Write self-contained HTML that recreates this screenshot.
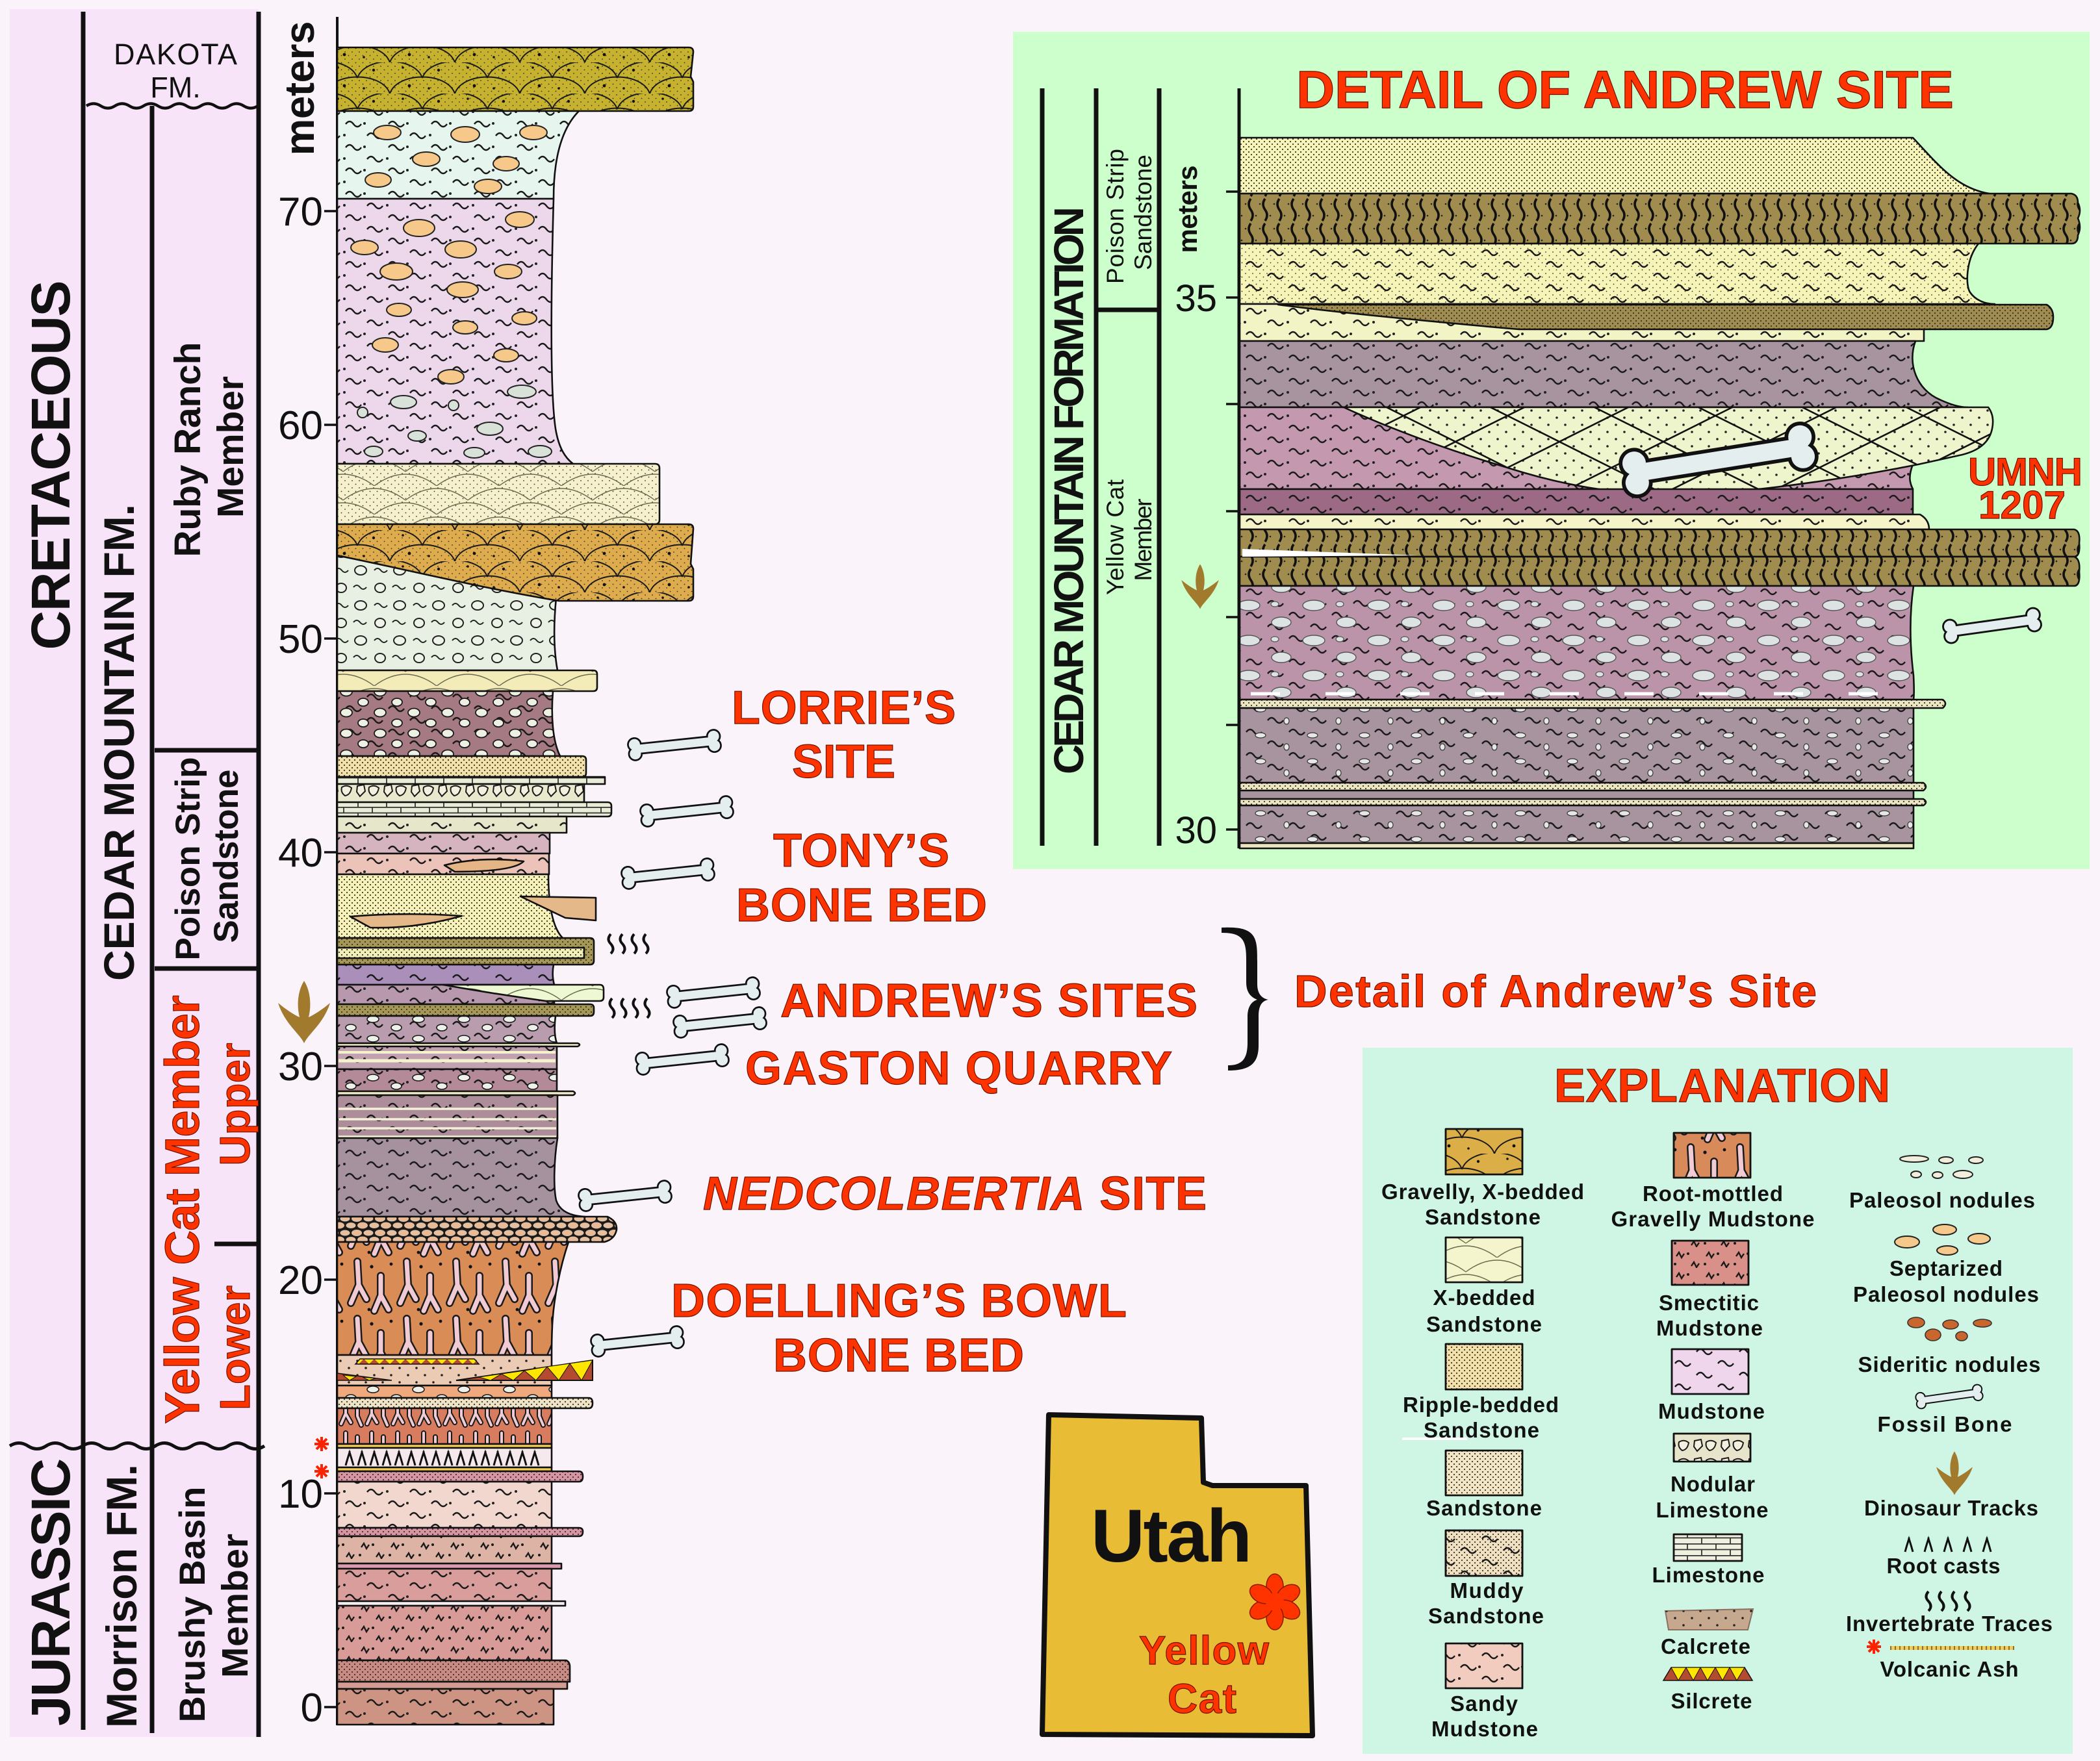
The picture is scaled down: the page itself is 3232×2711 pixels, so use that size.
<!DOCTYPE html>
<html><head><meta charset="utf-8">
<style>
html,body{margin:0;padding:0;background:#faf4fa;overflow:hidden}
svg{display:block}
text{font-family:"Liberation Sans",Arial,Helvetica,sans-serif}
.b{font-weight:bold}
.red{fill:#ff3300;stroke:#701000;stroke-width:1.2}
.lg{font-weight:bold;font-size:33px;fill:#111;text-anchor:middle}
.o{stroke:#111;stroke-width:2.6;stroke-linejoin:round}
</style></head><body>
<svg width="3232" height="2711" viewBox="0 0 3232 2711" xmlns="http://www.w3.org/2000/svg">
<defs>
<pattern id="pDots" width="8" height="8" patternUnits="userSpaceOnUse"><circle cx="2" cy="2" r="1.1" fill="#333"/><circle cx="6" cy="6" r="1.1" fill="#333"/></pattern>
<pattern id="pDotF" width="11" height="11" patternUnits="userSpaceOnUse"><circle cx="3" cy="3" r="0.9" fill="#333"/><circle cx="8.5" cy="8.5" r="0.9" fill="#333"/></pattern>
<pattern id="pDotsS" width="26" height="22" patternUnits="userSpaceOnUse"><circle cx="4" cy="5" r="1.8" fill="#222"/><circle cx="17" cy="16" r="1.8" fill="#222"/></pattern>
<pattern id="pWave" width="66" height="36" patternUnits="userSpaceOnUse"><path d="M4,11 q6,-8 12,0 t12,0 M37,29 q6,-8 12,0 t12,0" fill="none" stroke="#1a1a1a" stroke-width="2.4"/></pattern>
<pattern id="pWaveDot" width="66" height="36" patternUnits="userSpaceOnUse"><path d="M4,11 q6,-8 12,0 t12,0 M37,29 q6,-8 12,0 t12,0" fill="none" stroke="#1a1a1a" stroke-width="2.4"/><circle cx="33" cy="10" r="2" fill="#222"/><circle cx="2" cy="28" r="2" fill="#222"/></pattern>
<pattern id="pXbed" width="96" height="44" patternUnits="userSpaceOnUse"><path d="M0,44 Q48,8 96,44 M-48,22 Q0,-14 48,22 M48,22 Q96,-14 144,22" fill="none" stroke="#6a6a50" stroke-width="1.4"/></pattern>
<pattern id="pScale" width="100" height="48" patternUnits="userSpaceOnUse"><path d="M0,48 C12,14 88,14 100,48 M-50,24 C-38,-10 38,-10 50,24 M50,24 C62,-10 138,-10 150,24" fill="none" stroke="#1a1a1a" stroke-width="2"/><circle cx="30" cy="36" r="2.4" fill="#111"/><circle cx="75" cy="12" r="2.2" fill="#111"/><circle cx="60" cy="40" r="1.8" fill="#111"/><circle cx="20" cy="8" r="1.8" fill="#111"/></pattern>
<pattern id="pPeb" width="52" height="32" patternUnits="userSpaceOnUse"><ellipse cx="13" cy="9" rx="9" ry="6.5" fill="#eef0e4" stroke="#1a1a1a" stroke-width="1.8"/><ellipse cx="39" cy="25" rx="8" ry="6" fill="#eef0e4" stroke="#1a1a1a" stroke-width="1.8"/></pattern>
<pattern id="pPebS" width="70" height="30" patternUnits="userSpaceOnUse"><ellipse cx="14" cy="9" rx="9" ry="5" fill="#eef0ea" stroke="#1a1a1a" stroke-width="1.6"/><ellipse cx="50" cy="22" rx="8" ry="5" fill="#eef0ea" stroke="#1a1a1a" stroke-width="1.6"/></pattern>
<pattern id="pOpen" width="60" height="54" patternUnits="userSpaceOnUse"><ellipse cx="15" cy="14" rx="9" ry="7" fill="#eef3e8" stroke="#222" stroke-width="2"/><ellipse cx="45" cy="41" rx="8" ry="7" fill="#eef3e8" stroke="#222" stroke-width="2"/><path d="M36,14 q5,-6 10,0 t10,0 M4,40 q5,-6 10,0 t10,0" fill="none" stroke="#222" stroke-width="2"/></pattern>
<pattern id="pGrav" width="36" height="22" patternUnits="userSpaceOnUse"><rect width="36" height="22" fill="#1a1a1a"/><ellipse cx="9" cy="6" rx="8" ry="5" fill="#e8bb98"/><ellipse cx="27" cy="6" rx="7.5" ry="4.5" fill="#e4c0a0"/><ellipse cx="18" cy="16.5" rx="8" ry="5" fill="#e8bb98"/><ellipse cx="0" cy="16.5" rx="7.5" ry="4.5" fill="#e4c0a0"/><ellipse cx="36" cy="16.5" rx="7.5" ry="4.5" fill="#e4c0a0"/></pattern>
<pattern id="pBrick" width="44" height="18" patternUnits="userSpaceOnUse"><path d="M0,0.8 H44 M0,9.5 H44 M1,0 V9 M23,9 V18" stroke="#333" stroke-width="1.8" fill="none"/></pattern>
<pattern id="pNod" width="42" height="28" patternUnits="userSpaceOnUse"><path d="M4,6 L14,4 L16,14 L8,22 L3,15 Z M22,8 Q30,3 37,9 Q35,20 27,21 Q20,16 22,8 Z" fill="#f4f0e0" stroke="#1a1a1a" stroke-width="2"/></pattern>
<pattern id="pTrace" width="22" height="38" patternUnits="userSpaceOnUse"><path d="M11,2 q-6,8 0,17 q6,8 0,17" fill="none" stroke="#111" stroke-width="3.6"/><circle cx="3" cy="10" r="1.3" fill="#222"/><circle cx="19" cy="28" r="1.3" fill="#222"/></pattern>
<pattern id="pRoot" width="76" height="88" patternUnits="userSpaceOnUse"><g fill="none" stroke-linecap="round" stroke-linejoin="round"><path d="M18,6 L20,42 L8,70 M20,42 L32,64 M54,28 L54,58 L44,82 M54,58 L66,80" stroke="#1a1a1a" stroke-width="12"/><path d="M18,6 L20,42 L8,70 M20,42 L32,64 M54,28 L54,58 L44,82 M54,58 L66,80" stroke="#f0cbd3" stroke-width="7"/></g><circle cx="40" cy="14" r="2.6" fill="#111"/><circle cx="70" cy="10" r="2.4" fill="#111"/><circle cx="36" cy="80" r="2.4" fill="#111"/></pattern>
<pattern id="pRootS" width="40" height="50" patternUnits="userSpaceOnUse"><g fill="none" stroke-linecap="round" stroke-linejoin="round"><path d="M12,6 L12,26 L5,42 M12,26 L20,40 M30,12 L30,30 L36,44" stroke="#1a1a1a" stroke-width="8"/><path d="M12,6 L12,26 L5,42 M12,26 L20,40 M30,12 L30,30 L36,44" stroke="#f0cbd3" stroke-width="4"/></g></pattern>
<pattern id="pSmect" width="46" height="32" patternUnits="userSpaceOnUse"><path d="M4,14 l4,-6 l4,8 l4,-6 M27,29 l4,-6 l4,8 l4,-6" fill="none" stroke="#1a1a1a" stroke-width="2.4"/><circle cx="22" cy="10" r="2" fill="#1a1a1a"/><circle cx="2" cy="26" r="2" fill="#1a1a1a"/></pattern>
<pattern id="pNodG" width="100" height="54" patternUnits="userSpaceOnUse"><ellipse cx="22" cy="14" rx="17" ry="8" fill="#dde2e2" stroke="#555" stroke-width="1.4"/><ellipse cx="72" cy="40" rx="15" ry="8" fill="#dde2e2" stroke="#555" stroke-width="1.4"/><ellipse cx="62" cy="12" rx="6" ry="4" fill="#dde2e2" stroke="#555" stroke-width="1.2"/></pattern>
<pattern id="pNodS" width="80" height="40" patternUnits="userSpaceOnUse"><ellipse cx="20" cy="12" rx="8" ry="4" fill="#e6e6e6" stroke="#333" stroke-width="1.2"/><ellipse cx="60" cy="30" rx="4" ry="5" fill="#e6e6e6" stroke="#333" stroke-width="1.2"/></pattern>
<pattern id="pDiam" width="160" height="80" patternUnits="userSpaceOnUse"><path d="M0,40 L80,0 L160,40 L80,80 Z" fill="none" stroke="#111" stroke-width="2.6"/></pattern>
<pattern id="pSil" width="16" height="8" patternUnits="userSpaceOnUse" patternTransform="translate(0,2092)"><rect width="16" height="8" fill="#b44a30"/><path d="M0,0 H16 L8,8 Z" fill="#ffe600"/></pattern>
<path id="trk" d="M0,48 C-6,34 -30,18 -40,-14 C-28,-4 -16,4 -7,8 C-12,-12 -9,-34 0,-48 C9,-34 12,-12 7,8 C16,4 28,-4 40,-14 C30,18 6,34 0,48 Z" fill="#a27a2e"/>
<g id="bone"><g stroke="#111" stroke-width="6" fill="#e4eeee"><rect x="-62" y="-7" width="124" height="14"/><circle cx="-68" cy="-8" r="9.5"/><circle cx="-68" cy="8" r="9.5"/><circle cx="68" cy="-8" r="9.5"/><circle cx="68" cy="8" r="9.5"/></g><g fill="#e4eeee"><rect x="-64" y="-7" width="128" height="14"/><circle cx="-68" cy="-8" r="9.5"/><circle cx="-68" cy="8" r="9.5"/><circle cx="68" cy="-8" r="9.5"/><circle cx="68" cy="8" r="9.5"/></g></g>
<path id="sq" d="M0,0 q-7,8 0,15 q7,8 0,15" fill="none" stroke="#111" stroke-width="4"/>
<path id="rc" d="M0,20 Q3,9 6,0 Q9,9 12,20 M6,0 V-2" fill="none" stroke="#111" stroke-width="3"/>
<path id="ast" d="M-11,0 H11 M0,-11 V11 M-8,-8 L8,8 M-8,8 L8,-8" stroke="#ff2200" stroke-width="4"/>
</defs>

<rect width="3232" height="2711" fill="#faf4fa"/>
<!-- left label panel -->
<rect x="15" y="14" width="383" height="2660" fill="#f8e4f8"/>
<g stroke="#111" stroke-width="7" fill="none">
<line x1="128" y1="18" x2="128" y2="2663"/>
<line x1="234" y1="163" x2="234" y2="2668"/>
<line x1="398" y1="18" x2="398" y2="2674"/>
<line x1="238" y1="1155" x2="398" y2="1155"/>
<line x1="238" y1="1491" x2="398" y2="1491"/>
<line x1="330" y1="1915" x2="398" y2="1915"/>
</g>
<path d="M133,163 q11,-7 22,0 t22,0 t22,0 t22,0 t22,0 t22,0 t22,0 t22,0 t22,0 t22,0 t22,0 t22,0" fill="none" stroke="#111" stroke-width="4.5"/>
<path d="M15,2226 q14,-9 28,0 t28,0 t28,0 t28,0 t28,0 t28,0 t28,0 t28,0 t28,0 t28,0 t28,0 t28,0 t28,0 t28,0" fill="none" stroke="#111" stroke-width="5"/>
<text x="270" y="99" font-size="45" text-anchor="middle" textLength="190" fill="#111">DAKOTA</text>
<text x="270" y="150" font-size="45" text-anchor="middle" fill="#111">FM.</text>

<g class="b" fill="#111" text-anchor="middle">
<text transform="translate(77,716) rotate(-90)" x="0" y="30" font-size="84" textLength="569">CRETACEOUS</text>
<text transform="translate(77,2451) rotate(-90)" x="0" y="30" font-size="84" textLength="412">JURASSIC</text>
<text transform="translate(182,1143) rotate(-90)" x="0" y="24" font-size="66" textLength="734">CEDAR MOUNTAIN FM.</text>
<text transform="translate(186,2457) rotate(-90)" x="0" y="24" font-size="66" textLength="406">Morrison FM.</text>
<text transform="translate(288,692) rotate(-90)" x="0" y="20" font-size="57" textLength="331">Ruby Ranch</text>
<text transform="translate(354,688) rotate(-90)" x="0" y="20" font-size="57" textLength="218">Member</text>
<text transform="translate(288,1322) rotate(-90)" x="0" y="19" font-size="53" textLength="313">Poison Strip</text>
<text transform="translate(347,1318) rotate(-90)" x="0" y="19" font-size="53" textLength="267">Sandstone</text>
<text transform="translate(295,2470) rotate(-90)" x="0" y="20" font-size="56" textLength="363">Brushy Basin</text>
<text transform="translate(361,2472) rotate(-90)" x="0" y="20" font-size="57" textLength="222">Member</text>
<text transform="translate(466,136) rotate(-90)" x="0" y="17" font-size="64" textLength="207">meters</text>
</g>
<g class="b red" text-anchor="middle">
<text transform="translate(280,1862) rotate(-90)" x="0" y="26" font-size="74" textLength="660">Yellow Cat Member</text>
<text transform="translate(361,1700) rotate(-90)" x="0" y="23" font-size="65" textLength="189">Upper</text>
<text transform="translate(361,2075) rotate(-90)" x="0" y="23" font-size="65" textLength="192">Lower</text>
</g>

<!-- axis and ticks -->
<line x1="519" y1="26" x2="519" y2="2656" stroke="#111" stroke-width="4"/>
<g stroke="#111" stroke-width="3.5"><line x1="499" y1="325" x2="519" y2="325"/><line x1="499" y1="654" x2="519" y2="654"/><line x1="499" y1="983" x2="519" y2="983"/><line x1="499" y1="1312" x2="519" y2="1312"/><line x1="499" y1="1641" x2="519" y2="1641"/><line x1="499" y1="1970" x2="519" y2="1970"/><line x1="499" y1="2299" x2="519" y2="2299"/><line x1="499" y1="2628" x2="519" y2="2628"/></g>
<g font-size="62" text-anchor="end" fill="#111">
<text x="497" y="347">70</text><text x="497" y="676">60</text><text x="497" y="1005">50</text><text x="497" y="1334">40</text><text x="497" y="1663">30</text><text x="497" y="1992">20</text><text x="497" y="2321">10</text><text x="497" y="2650">0</text>
</g>

<!-- MAIN COLUMN -->
<g>
<path d="M519,73H1060Q1067,73 1067,80L1063,118L1067,126V164Q1067,171 1060,171H519Z" fill="#c6b22e"/>
<path d="M519,73H1060Q1067,73 1067,80L1063,118L1067,126V164Q1067,171 1060,171H519Z" fill="url(#pDotF)"/>
<path d="M519,73H1060Q1067,73 1067,80L1063,118L1067,126V164Q1067,171 1060,171H519Z" fill="url(#pScale)" class="o"/>
<path d="M519,171H891C862,200 852,250 852,306H519Z" fill="#e6f5ee"/>
<path d="M519,171H891C862,200 852,250 852,306H519Z" fill="url(#pWaveDot)" class="o"/>
<path d="M519,306H852C848,450 846,600 855,660C860,690 870,705 882,714H519Z" fill="#ecd8ea"/>
<path d="M519,306H852C848,450 846,600 855,660C860,690 870,705 882,714H519Z" fill="url(#pWaveDot)" class="o"/>
<g fill="#f6c98a" stroke="#222" stroke-width="2">
<ellipse cx="596" cy="204" rx="21" ry="11"/><ellipse cx="716" cy="207" rx="22" ry="12"/><ellipse cx="821" cy="204" rx="21" ry="11"/><ellipse cx="656" cy="245" rx="21" ry="11"/><ellipse cx="779" cy="252" rx="20" ry="11"/><ellipse cx="582" cy="277" rx="20" ry="11"/><ellipse cx="751" cy="287" rx="21" ry="11"/>
<ellipse cx="800" cy="338" rx="22" ry="12"/><ellipse cx="645" cy="351" rx="24" ry="13"/><ellipse cx="561" cy="381" rx="21" ry="11"/><ellipse cx="709" cy="384" rx="24" ry="13"/><ellipse cx="610" cy="418" rx="25" ry="13"/><ellipse cx="782" cy="418" rx="21" ry="11"/><ellipse cx="712" cy="446" rx="24" ry="12"/><ellipse cx="614" cy="477" rx="19" ry="10"/><ellipse cx="807" cy="490" rx="19" ry="10"/><ellipse cx="716" cy="504" rx="19" ry="10"/><ellipse cx="593" cy="531" rx="20" ry="11"/><ellipse cx="779" cy="547" rx="19" ry="10"/><ellipse cx="694" cy="580" rx="20" ry="11"/>
</g>
<g fill="#d8e2d8" stroke="#222" stroke-width="2">
<ellipse cx="803" cy="603" rx="22" ry="10"/><ellipse cx="621" cy="619" rx="20" ry="10"/><circle cx="558" cy="635" r="8"/><circle cx="698" cy="624" r="8"/><ellipse cx="754" cy="660" rx="20" ry="10"/><ellipse cx="642" cy="671" rx="14" ry="8"/><ellipse cx="575" cy="695" rx="14" ry="8"/><ellipse cx="730" cy="697" rx="16" ry="8"/><ellipse cx="831" cy="695" rx="18" ry="9"/>
</g>
<path d="M519,714H1008Q1015,714 1015,721V800Q1015,807 1008,807H519Z" fill="#f6f0cd"/>
<path d="M519,714H1008Q1015,714 1015,721V800Q1015,807 1008,807H519Z" fill="url(#pDotF)"/>
<path d="M519,714H1008Q1015,714 1015,721V800Q1015,807 1008,807H519Z" fill="url(#pXbed)" class="o"/>
<path d="M519,855C640,880 760,905 856,920C852,960 852,1000 858,1032H519Z" fill="#e7f0e2"/>
<path d="M519,855C640,880 760,905 856,920C852,960 852,1000 858,1032H519Z" fill="url(#pOpen)" class="o"/>
<path d="M519,807H1060Q1067,807 1067,814L1063,868L1067,876V918Q1067,925 1060,925H860C740,905 640,880 519,855Z" fill="#deac4d"/>
<path d="M519,807H1060Q1067,807 1067,814L1063,868L1067,876V918Q1067,925 1060,925H860C740,905 640,880 519,855Z" fill="url(#pDotF)"/>
<path d="M519,807H1060Q1067,807 1067,814L1063,868L1067,876V918Q1067,925 1060,925H860C740,905 640,880 519,855Z" fill="url(#pScale)" class="o"/>
<path d="M519,1032H913Q919,1032 919,1038V1058Q919,1064 913,1064H519Z" fill="#f4ecb8"/>
<path d="M519,1032H913Q919,1032 919,1038V1058Q919,1064 913,1064H519Z" fill="url(#pXbed)" class="o"/>
<path d="M519,1064H851C848,1100 850,1140 862,1164H519Z" fill="#a57a82"/>
<path d="M519,1064H851C848,1100 850,1140 862,1164H519Z" fill="url(#pWave)"/>
<path d="M519,1064H851C848,1100 850,1140 862,1164H519Z" fill="url(#pPeb)" class="o"/>
<path d="M519,1164H896Q902,1164 902,1170V1190Q902,1196 896,1196H519Z" fill="#f2e0a8"/>
<path d="M519,1164H896Q902,1164 902,1170V1190Q902,1196 896,1196H519Z" fill="url(#pDots)" class="o"/>
<path d="M519,1196H931V1207H519Z" fill="#e9ecd6"/><path d="M519,1196H931V1207H519Z" fill="url(#pBrick)" class="o"/>
<path d="M519,1207H899V1235H519Z" fill="#e8e8cc"/><path d="M519,1207H899V1235H519Z" fill="url(#pNod)" class="o"/>
<path d="M519,1235H935Q941,1235 941,1241V1251Q941,1257 935,1257H519Z" fill="#e9ecd6"/><path d="M519,1235H935Q941,1235 941,1241V1251Q941,1257 935,1257H519Z" fill="url(#pBrick)" class="o"/>
<path d="M519,1257H872V1282H519Z" fill="#e6e6ca"/><path d="M519,1257H872V1282H519Z" fill="url(#pWaveDot)" class="o"/>
<path d="M519,1282H846V1314H519Z" fill="#d5b3bf"/><path d="M519,1282H846V1314H519Z" fill="url(#pWaveDot)" class="o"/>
<path d="M519,1314H845V1346H519Z" fill="#ebc3b8"/><path d="M519,1314H845V1346H519Z" fill="url(#pWaveDot)" class="o"/>
<path d="M684,1332Q740,1318 806,1326Q790,1342 700,1342Z" fill="#e6b586" class="o"/>
<path d="M519,1346H844C844,1400 852,1430 866,1444H519Z" fill="#f6f2b8"/><path d="M519,1346H844C844,1400 852,1430 866,1444H519Z" fill="url(#pDots)" class="o"/>
<path d="M801,1380L917,1382V1417L870,1413Z" fill="#e4b888" class="o"/>
<path d="M539,1411Q620,1404 711,1410Q640,1430 570,1428Z" fill="#e4b888" class="o"/>
<path d="M519,1444H908Q914,1444 914,1450V1479Q914,1485 908,1485H519Z" fill="#a69754"/><path d="M519,1444H908Q914,1444 914,1450V1479Q914,1485 908,1485H519Z" fill="url(#pDots)" class="o"/>
<path d="M519,1459H899V1475H519Z" fill="#f2eeb8"/><path d="M519,1459H899V1475H519Z" fill="url(#pDots)" class="o"/>
<path d="M519,1485H852C850,1495 850,1505 853,1516H519Z" fill="#ab8fbb"/><path d="M519,1485H852C850,1495 850,1505 853,1516H519Z" fill="url(#pWave)" class="o"/>
<path d="M519,1516H853V1546H519Z" fill="#b898ac"/><path d="M519,1516H853V1546H519Z" fill="url(#pWaveDot)" class="o"/>
<path d="M682,1516H923Q929,1516 929,1523V1535Q929,1541 923,1541H840Q760,1530 682,1516Z" fill="#eef8d2"/><path d="M682,1516H923Q929,1516 929,1523V1535Q929,1541 923,1541H840Q760,1530 682,1516Z" fill="url(#pXbed)" class="o"/>
<path d="M519,1546H908Q914,1546 914,1552V1558Q914,1564 908,1564H519Z" fill="#a69754"/><path d="M519,1546H908Q914,1546 914,1552V1558Q914,1564 908,1564H519Z" fill="url(#pDots)" class="o"/>
<path d="M519,1564H855C853,1580 853,1595 857,1606H519Z" fill="#b99dae"/><path d="M519,1564H855C853,1580 853,1595 857,1606H519Z" fill="url(#pWave)"/><path d="M519,1564H855C853,1580 853,1595 857,1606H519Z" fill="url(#pPebS)" class="o"/>
<path d="M519,1606H889Q895,1608 889,1611H519Z" fill="#f2f0c8" class="o"/>
<path d="M519,1611H857V1646H519Z" fill="#c2a2b0"/><path d="M519,1611H857V1646H519Z" fill="url(#pWaveDot)" class="o"/>
<line x1="521" y1="1620" x2="855" y2="1620" stroke="#f4f2cc" stroke-width="4"/><line x1="521" y1="1633" x2="855" y2="1633" stroke="#f4f2cc" stroke-width="5"/>
<path d="M519,1646H857V1680H519Z" fill="#b48a98"/><path d="M519,1646H857V1680H519Z" fill="url(#pWaveDot)"/><path d="M519,1646H857V1680H519Z" fill="url(#pPebS)" class="o"/>
<path d="M519,1680H882Q888,1683 882,1686H519Z" fill="#f2efc8" class="o"/>
<path d="M519,1686H858V1752H519Z" fill="#ae8d9b"/><path d="M519,1686H858V1752H519Z" fill="url(#pWaveDot)" class="o"/>
<g stroke="#f2f2d6" stroke-width="3.5"><line x1="521" y1="1707" x2="856" y2="1707"/><line x1="521" y1="1723" x2="856" y2="1723"/><line x1="521" y1="1737" x2="856" y2="1737"/><line x1="521" y1="1750" x2="856" y2="1750"/></g>
<path d="M519,1752H858C852,1790 852,1830 856,1848C862,1866 880,1872 900,1873H519Z" fill="#a6919e"/><path d="M519,1752H858C852,1790 852,1830 856,1848C862,1866 880,1872 900,1873H519Z" fill="url(#pWaveDot)" class="o"/>
<path d="M519,1873H935Q950,1880 949,1893Q946,1908 930,1912H519Z" fill="url(#pGrav)" class="o"/>
<path d="M519,1912H875C862,1950 852,2000 850,2040C849,2060 849,2075 849,2086H519Z" fill="#d98c55"/><path d="M519,1912H875C862,1950 852,2000 850,2040C849,2060 849,2075 849,2086H519Z" fill="url(#pRoot)" class="o"/>
<path d="M519,2086H849V2133H519Z" fill="#eccbb4"/><path d="M519,2086H849V2133H519Z" fill="url(#pDotsS)" class="o"/>
<path d="M547,2100L737,2100L730,2092L554,2092Z" fill="url(#pSil)" stroke="#111" stroke-width="1.5"/>
<path d="M519,2114L603,2125L519,2125Z" fill="#b44a30" stroke="#111" stroke-width="1.5"/>
<path d="M702,2125L912,2094L912,2125Z" fill="#b44a30" stroke="#111" stroke-width="2"/>
<g fill="#ffe600" stroke="#111" stroke-width="1"><path d="M737,2120L772,2115L755,2125Z"/><path d="M772,2115L807,2110L790,2125Z"/><path d="M807,2110L842,2104L825,2125Z"/><path d="M842,2104L877,2099L860,2125Z"/><path d="M877,2099L912,2094L895,2125Z"/><path d="M528,2117L548,2119L538,2125Z"/><path d="M558,2120L578,2122L568,2125Z"/></g>
<path d="M519,2133H849V2152H519Z" fill="#f0a97c"/><path d="M519,2133H849V2152H519Z" fill="url(#pPebS)" class="o"/>
<path d="M519,2152H906Q912,2152 912,2160Q912,2168 906,2168H519Z" fill="#efe3c6"/><path d="M519,2152H906Q912,2152 912,2160Q912,2168 906,2168H519Z" fill="url(#pDots)" class="o"/>
<path d="M519,2168H849V2223H519Z" fill="#d77c5e"/><path d="M519,2168H849V2223H519Z" fill="url(#pRootS)" class="o"/>
<path d="M519,2223H849V2229H519Z" fill="#f0cc58" class="o"/>
<path d="M519,2229H849V2259H519Z" fill="#f6e9ee" class="o"/>
<path d="M519,2259H849V2265H519Z" fill="#f0cc58" class="o"/>
<path d="M519,2265H891Q897,2265 897,2273Q897,2281 891,2281H519Z" fill="#d994a2"/><path d="M519,2265H891Q897,2265 897,2273Q897,2281 891,2281H519Z" fill="url(#pDots)" class="o"/>
<path d="M519,2281H849V2352H519Z" fill="#f1d7ce"/><path d="M519,2281H849V2352H519Z" fill="url(#pWaveDot)" class="o"/>
<path d="M519,2352H891Q897,2352 897,2358Q897,2365 891,2365H519Z" fill="#d994a2"/><path d="M519,2352H891Q897,2352 897,2358Q897,2365 891,2365H519Z" fill="url(#pDots)" class="o"/>
<path d="M519,2365H849V2407H519Z" fill="#dcb3a4"/><path d="M519,2365H849V2407H519Z" fill="url(#pSmect)" class="o"/>
<path d="M519,2407H864V2415H519Z" fill="#d99bb0" class="o"/>
<path d="M519,2415H849V2465H519Z" fill="#d99d9b"/><path d="M519,2415H849V2465H519Z" fill="url(#pWaveDot)" class="o"/>
<path d="M519,2465H870V2472H519Z" fill="#f5eef0" class="o"/>
<path d="M519,2472H849V2556H519Z" fill="#d89b97"/><path d="M519,2472H849V2556H519Z" fill="url(#pSmect)" class="o"/>
<path d="M519,2556H871Q877,2558 877,2566V2589H519Z" fill="#c98a82"/><path d="M519,2556H871Q877,2558 877,2566V2589H519Z" fill="url(#pDots)" class="o"/>
<path d="M519,2589H873V2600H519Z" fill="#d29c92" class="o"/>
<path d="M519,2600H852V2655H519Z" fill="#cd9483"/><path d="M519,2600H852V2655H519Z" fill="url(#pWaveDot)" class="o"/>
</g>
<!-- root casts in column -->
<g><use href="#rc" x="532" y="2236"/><use href="#rc" x="551" y="2236"/><use href="#rc" x="570" y="2236"/><use href="#rc" x="589" y="2236"/><use href="#rc" x="608" y="2236"/><use href="#rc" x="627" y="2236"/><use href="#rc" x="646" y="2236"/><use href="#rc" x="665" y="2236"/><use href="#rc" x="684" y="2236"/><use href="#rc" x="703" y="2236"/><use href="#rc" x="722" y="2236"/><use href="#rc" x="741" y="2236"/><use href="#rc" x="760" y="2236"/><use href="#rc" x="779" y="2236"/><use href="#rc" x="798" y="2236"/><use href="#rc" x="817" y="2236"/></g>
<use href="#ast" x="495" y="2223"/><use href="#ast" x="495" y="2265"/>
<use href="#trk" transform="translate(468,1558)"/>
<!-- invertebrate traces -->
<g><use href="#sq" x="940" y="1438"/><use href="#sq" x="958" y="1438"/><use href="#sq" x="976" y="1438"/><use href="#sq" x="994" y="1438"/>
<use href="#sq" x="942" y="1537"/><use href="#sq" x="960" y="1537"/><use href="#sq" x="978" y="1537"/><use href="#sq" x="996" y="1537"/></g>
<!-- bones -->
<use href="#bone" transform="translate(1038,1147) rotate(-6) scale(0.9)"/>
<use href="#bone" transform="translate(1057,1249) rotate(-6) scale(0.9)"/>
<use href="#bone" transform="translate(1028,1345) rotate(-6) scale(0.9)"/>
<use href="#bone" transform="translate(1098,1528) rotate(-6) scale(0.9)"/>
<use href="#bone" transform="translate(1108,1574) rotate(-6) scale(0.9)"/>
<use href="#bone" transform="translate(1050,1631) rotate(-6) scale(0.9)"/>
<use href="#bone" transform="translate(962,1841) rotate(-6) scale(0.9)"/>
<use href="#bone" transform="translate(981,2065) rotate(-6) scale(0.9)"/>

<!-- site labels -->
<g class="b red" font-size="72">
<text x="1126" y="1114" textLength="345">LORRIE’S</text>
<text x="1219" y="1197" textLength="159">SITE</text>
<text x="1190" y="1334" textLength="271">TONY’S</text>
<text x="1133" y="1418" textLength="386">BONE BED</text>
<text x="1201" y="1565" textLength="642">ANDREW’S SITES</text>
<text x="1147" y="1669" textLength="657">GASTON QUARRY</text>
<text x="1082" y="1862" textLength="775"><tspan font-style="italic">NEDCOLBERTIA</tspan> SITE</text>
<text x="1033" y="2027" textLength="701">DOELLING’S BOWL</text>
<text x="1190" y="2111" textLength="386">BONE BED</text>
<text x="1992" y="1550" font-size="70" textLength="804">Detail of Andrew’s Site</text>
</g>
<!-- brace -->
<path d="M1880,1428C1935,1425 1935,1445 1935,1480L1935,1515C1935,1530 1942,1537 1952,1539C1942,1541 1937,1548 1937,1565L1937,1610C1937,1640 1920,1648 1890,1648L1890,1640C1912,1640 1920,1630 1920,1605L1920,1565C1920,1548 1928,1541 1935,1539C1925,1535 1918,1528 1918,1512L1918,1475C1918,1445 1910,1436 1880,1436Z" fill="#111"/>

<!-- DETAIL BOX -->
<rect x="1559" y="49" width="1657" height="1289" fill="#ccffcc"/>
<text x="1995" y="166" class="b red" font-size="82" textLength="1012">DETAIL OF ANDREW SITE</text>
<g stroke="#111" stroke-width="7"><line x1="1604" y1="136" x2="1604" y2="1302"/><line x1="1687" y1="136" x2="1687" y2="1302"/><line x1="1784" y1="136" x2="1784" y2="1302"/><line x1="1687" y1="477" x2="1784" y2="477"/></g>
<line x1="1907" y1="136" x2="1907" y2="1306" stroke="#111" stroke-width="5"/>
<g stroke="#111" stroke-width="3.5"><line x1="1887" y1="295" x2="1907" y2="295"/><line x1="1887" y1="458" x2="1907" y2="458"/><line x1="1887" y1="622" x2="1907" y2="622"/><line x1="1887" y1="787" x2="1907" y2="787"/><line x1="1887" y1="950" x2="1907" y2="950"/><line x1="1887" y1="1116" x2="1907" y2="1116"/><line x1="1887" y1="1277" x2="1907" y2="1277"/></g>
<g font-size="58" text-anchor="end" fill="#111"><text x="1873" y="479">35</text><text x="1873" y="1298">30</text></g>
<g fill="#111" text-anchor="middle">
<text class="b" transform="translate(1644,755) rotate(-90)" x="0" y="23" font-size="64" textLength="874">CEDAR MOUNTAIN FORMATION</text>
<text transform="translate(1716,333) rotate(-90)" x="0" y="13" font-size="37" textLength="208">Poison Strip</text>
<text transform="translate(1759,327) rotate(-90)" x="0" y="13" font-size="37" textLength="178">Sandstone</text>
<text transform="translate(1716,827) rotate(-90)" x="0" y="13" font-size="37" textLength="178">Yellow Cat</text>
<text transform="translate(1759,831) rotate(-90)" x="0" y="13" font-size="37" textLength="127">Member</text>
<text class="b" transform="translate(1831,322) rotate(-90)" x="0" y="11" font-size="42" textLength="135">meters</text>
</g>
<g>
<path d="M1908,212H2944C2980,250 3010,290 3062,298H1908Z" fill="#f7f4b8"/><path d="M1908,212H2944C2980,250 3010,290 3062,298H1908Z" fill="url(#pDots)" class="o"/>
<path d="M1908,298H3188Q3198,300 3198,312Q3204,324 3198,336Q3204,350 3198,362Q3198,375 3188,375H1908Z" fill="#a08c4e"/><path d="M1908,298H3188Q3198,300 3198,312Q3204,324 3198,336Q3204,350 3198,362Q3198,375 3188,375H1908Z" fill="url(#pTrace)" class="o"/>
<path d="M1908,375H3045C3025,400 3025,440 3032,450C3040,462 3055,468 3070,468H1908Z" fill="#f7f4b8"/><path d="M1908,375H3045C3025,400 3025,440 3032,450C3040,462 3055,468 3070,468H1908Z" fill="url(#pDotF)"/><path d="M1908,375H3045C3025,400 3025,440 3032,450C3040,462 3055,468 3070,468H1908Z" fill="url(#pWave)" class="o"/>
<path d="M1908,468H2961V525H1908Z" fill="#f2f4c6"/><path d="M1908,468H2961V525H1908Z" fill="url(#pWaveDot)" class="o"/>
<path d="M1967,469H3150Q3160,475 3160,488Q3160,505 3150,507H2338C2200,495 2050,480 1967,469Z" fill="#a08c4e"/><path d="M1967,469H3150Q3160,475 3160,488Q3160,505 3150,507H2338C2200,495 2050,480 1967,469Z" fill="url(#pDots)" class="o"/>
<path d="M1908,525H2948C2935,560 2950,600 2985,615C3000,622 3015,627 3028,627H1908Z" fill="#a8949f"/><path d="M1908,525H2948C2935,560 2950,600 2985,615C3000,622 3015,627 3028,627H1908Z" fill="url(#pWaveDot)" class="o"/>
<path d="M1908,627H2961L2944,715C2936,735 2940,745 2944,753H1908Z" fill="#c499b0"/><path d="M1908,627H2961L2944,715C2936,735 2940,745 2944,753H1908Z" fill="url(#pWaveDot)" class="o"/>
<path d="M2068,627H3060Q3070,640 3066,660Q3060,690 3020,700L2952,715C2800,745 2650,762 2573,762C2480,760 2405,747 2320,720C2220,690 2140,660 2068,627Z" fill="#eef5cc"/>
<path d="M2068,627H3060Q3070,640 3066,660Q3060,690 3020,700L2952,715C2800,745 2650,762 2573,762C2480,760 2405,747 2320,720C2220,690 2140,660 2068,627Z" fill="url(#pDotsS)"/>
<path d="M2068,627H3060Q3070,640 3066,660Q3060,690 3020,700L2952,715C2800,745 2650,762 2573,762C2480,760 2405,747 2320,720C2220,690 2140,660 2068,627Z" fill="url(#pDiam)" class="o"/>
<path d="M1908,753H2944V792H1908Z" fill="#9c6a84"/><path d="M1908,753H2944V792H1908Z" fill="url(#pWaveDot)" class="o"/>
<path d="M1908,792H2955Q2969,800 2969,815H1908Z" fill="#f4f4c8"/><path d="M1908,792H2955Q2969,800 2969,815H1908Z" fill="url(#pWaveDot)" class="o"/>
<path d="M1908,815H3192Q3202,817 3200,836Q3202,857 3192,857H1908Z" fill="#a08c4e"/><path d="M1908,815H3192Q3202,817 3200,836Q3202,857 3192,857H1908Z" fill="url(#pTrace)" class="o"/>
<path d="M1908,857H3192Q3202,860 3200,880Q3202,902 3192,902H1908Z" fill="#a08c4e"/><path d="M1908,857H3192Q3202,860 3200,880Q3202,902 3192,902H1908Z" fill="url(#pTrace)" class="o"/>
<path d="M1912,845L2182,855L1912,857Z" fill="#ffffff"/>
<path d="M1967,902H2161L2150,918H1980Z" fill="#a08c4e" class="o"/>
<path d="M1908,902H2945C2938,950 2940,1000 2945,1040C2946,1060 2946,1070 2945,1077H1908Z" fill="#bc94aa"/><path d="M1908,902H2945C2938,950 2940,1000 2945,1040C2946,1060 2946,1070 2945,1077H1908Z" fill="url(#pWave)"/><path d="M1908,902H2945C2938,950 2940,1000 2945,1040C2946,1060 2946,1070 2945,1077H1908Z" fill="url(#pNodG)" class="o"/>
<line x1="1925" y1="1068" x2="2900" y2="1068" stroke="#ffffff" stroke-width="5" stroke-dasharray="45 70"/>
<path d="M1908,1077H2990Q2998,1083 2990,1090H1908Z" fill="#ece6c0"/><path d="M1908,1077H2990Q2998,1083 2990,1090H1908Z" fill="url(#pDots)" class="o"/>
<path d="M1908,1090H2945V1205H1908Z" fill="#a8949f"/><path d="M1908,1090H2945V1205H1908Z" fill="url(#pWave)"/><path d="M1908,1090H2945V1205H1908Z" fill="url(#pNodS)" class="o"/>
<path d="M1908,1205H2960Q2968,1211 2960,1217H1908Z" fill="#ece6c0"/><path d="M1908,1205H2960Q2968,1211 2960,1217H1908Z" fill="url(#pDots)" class="o"/>
<path d="M1908,1217H2945V1230H1908Z" fill="#a8949f" class="o"/>
<path d="M1908,1230H2960Q2968,1235 2960,1240H1908Z" fill="#ece6c0"/><path d="M1908,1230H2960Q2968,1235 2960,1240H1908Z" fill="url(#pDots)" class="o"/>
<path d="M1908,1240H2945V1298H1908Z" fill="#a8949f"/><path d="M1908,1240H2945V1298H1908Z" fill="url(#pWave)"/><path d="M1908,1240H2945V1298H1908Z" fill="url(#pNodS)" class="o"/>
<path d="M1908,1298H2945V1306H1908Z" fill="#ece6c0" class="o"/>
</g>
<use href="#bone" transform="translate(2645,708) rotate(-9) scale(1.9)"/>
<use href="#bone" transform="translate(3066,963) rotate(-8) scale(0.95)"/>
<use href="#trk" transform="translate(1847,903) scale(0.72)"/>
<g class="b red" font-size="60" text-anchor="middle"><text x="3117" y="747" textLength="176">UMNH</text><text x="3112" y="798" textLength="134">1207</text></g>

<!-- UTAH MAP -->
<path d="M1614,2178L1849,2183L1852,2282L1866,2287L2010,2287L2020,2672L1604,2670Z" fill="#e9bc35" stroke="#111" stroke-width="8" stroke-linejoin="round"/>
<text x="1803" y="2404" class="b" font-size="115" text-anchor="middle" textLength="248" fill="#111">Utah</text>
<g transform="translate(1962,2466)" fill="#ff3300" stroke="#8a1a00" stroke-width="1.5">
<ellipse cx="0" cy="-24" rx="13" ry="19"/><ellipse cx="0" cy="-24" rx="13" ry="19" transform="rotate(60)"/><ellipse cx="0" cy="-24" rx="13" ry="19" transform="rotate(120)"/><ellipse cx="0" cy="-24" rx="13" ry="19" transform="rotate(180)"/><ellipse cx="0" cy="-24" rx="13" ry="19" transform="rotate(240)"/><ellipse cx="0" cy="-24" rx="13" ry="19" transform="rotate(300)"/><circle r="14" stroke="none"/>
</g>
<g class="b red" text-anchor="middle"><text x="1853" y="2562" font-size="62" textLength="200">Yellow</text><text x="1850" y="2637" font-size="64" textLength="106">Cat</text></g>

<!-- EXPLANATION -->
<rect x="2097" y="1613" width="1093" height="1087" fill="#cff5e4"/>
<text x="2392" y="1696" class="b red" font-size="72" textLength="517">EXPLANATION</text>
<g class="o">
<rect x="2225" y="1738" width="118" height="70" fill="#dcae48"/><rect x="2225" y="1738" width="118" height="70" fill="url(#pScale)"/>
<rect x="2225" y="1905" width="118" height="69" fill="#f4f5cc"/><rect x="2225" y="1905" width="118" height="69" fill="url(#pXbed)"/>
<rect x="2225" y="2069" width="118" height="70" fill="#f3e0a8"/><rect x="2225" y="2069" width="118" height="70" fill="url(#pDots)"/>
<rect x="2225" y="2233" width="118" height="69" fill="#f3e6c4"/><rect x="2225" y="2233" width="118" height="69" fill="url(#pDots)"/>
<rect x="2225" y="2356" width="118" height="70" fill="#f0e0c0"/><rect x="2225" y="2356" width="118" height="70" fill="url(#pDots)"/><rect x="2225" y="2356" width="118" height="70" fill="url(#pWave)"/>
<rect x="2225" y="2530" width="118" height="69" fill="#f2cdbf"/><rect x="2225" y="2530" width="118" height="69" fill="url(#pWaveDot)"/>
<rect x="2576" y="1744" width="118" height="69" fill="#d98a5a"/><rect x="2576" y="1744" width="118" height="69" fill="url(#pRoot)"/>
<rect x="2573" y="1910" width="118" height="68" fill="#d89088"/><rect x="2573" y="1910" width="118" height="68" fill="url(#pSmect)"/>
<rect x="2573" y="2077" width="118" height="69" fill="#efd6ec"/><rect x="2573" y="2077" width="118" height="69" fill="url(#pWave)"/>
<rect x="2576" y="2207" width="118" height="43" fill="#e8e4cc"/><rect x="2576" y="2207" width="118" height="43" fill="url(#pNod)"/>
<rect x="2576" y="2362" width="105" height="41" fill="#f0f0e0"/><rect x="2576" y="2362" width="105" height="41" fill="url(#pBrick)"/>
</g>
<line x1="2158" y1="2215" x2="2258" y2="2215" stroke="#ffffff" stroke-width="4"/>
<path d="M2563,2480L2698,2477L2690,2509L2568,2509Z" fill="#c6a88e" stroke="#8a7060" stroke-width="2"/><path d="M2563,2480L2698,2477L2690,2509L2568,2509Z" fill="url(#pDotsS)"/>
<path d="M2560,2587L2697,2587L2685,2567L2572,2567Z" fill="#b44a30" stroke="#111" stroke-width="1.5"/>
<g fill="#ffe600" stroke="#111" stroke-width="1"><path d="M2572,2567H2595L2583,2587Z"/><path d="M2595,2567H2617L2606,2587Z"/><path d="M2617,2567H2640L2628,2587Z"/><path d="M2640,2567H2662L2651,2587Z"/><path d="M2662,2567H2685L2673,2587Z"/></g>
<g fill="#f2eedc" stroke="#222" stroke-width="2"><ellipse cx="2946" cy="1784" rx="22" ry="5"/><ellipse cx="2995" cy="1786" rx="11" ry="5"/><ellipse cx="3041" cy="1786" rx="11" ry="5"/><ellipse cx="2949" cy="1808" rx="8" ry="5"/><ellipse cx="2982" cy="1809" rx="8" ry="5"/><ellipse cx="3021" cy="1808" rx="15" ry="6"/></g>
<g fill="#f5c98c" stroke="#222" stroke-width="2"><ellipse cx="2993" cy="1893" rx="18" ry="8"/><ellipse cx="2935" cy="1912" rx="19" ry="9"/><ellipse cx="2997" cy="1925" rx="16" ry="7"/><ellipse cx="3046" cy="1907" rx="17" ry="8"/></g>
<g fill="#c8662e" stroke="#333" stroke-width="1.6"><ellipse cx="2949" cy="2036" rx="13" ry="8"/><ellipse cx="3002" cy="2039" rx="12" ry="7"/><ellipse cx="3051" cy="2037" rx="14" ry="6"/><ellipse cx="2975" cy="2055" rx="12" ry="9"/><ellipse cx="3019" cy="2057" rx="9" ry="7"/></g>
<use href="#bone" transform="translate(3000,2150) rotate(-8) scale(0.65)"/>
<use href="#trk" transform="translate(3008,2268) scale(0.7)"/>
<g><use href="#rc" x="2932" y="2369"/><use href="#rc" x="2962" y="2369"/><use href="#rc" x="2992" y="2369"/><use href="#rc" x="3022" y="2369"/><use href="#rc" x="3052" y="2369"/></g>
<g><use href="#sq" x="2968" y="2450"/><use href="#sq" x="2988" y="2450"/><use href="#sq" x="3008" y="2450"/><use href="#sq" x="3028" y="2450"/></g>
<use href="#ast" x="2884" y="2535"/>
<line x1="2909" y1="2537" x2="3100" y2="2537" stroke="#f0cc58" stroke-width="6"/>
<line x1="2909" y1="2537" x2="3100" y2="2537" stroke="#8a7030" stroke-width="6" stroke-dasharray="2 5"/>
<g class="lg">
<text x="2282" y="1846" textLength="312">Gravelly, X-bedded</text><text x="2282" y="1885" textLength="178">Sandstone</text>
<text x="2284" y="2009" textLength="157">X-bedded</text><text x="2284" y="2050" textLength="178">Sandstone</text>
<text x="2279" y="2174" textLength="240">Ripple-bedded</text><text x="2280" y="2213" textLength="178">Sandstone</text>
<text x="2284" y="2333" textLength="178">Sandstone</text>
<text x="2288" y="2460" textLength="113">Muddy</text><text x="2287" y="2499" textLength="178">Sandstone</text>
<text x="2284" y="2634" textLength="104">Sandy</text><text x="2285" y="2673" textLength="164">Mudstone</text>
<text x="2636" y="1849" textLength="216">Root-mottled</text><text x="2636" y="1888" textLength="313">Gravelly Mudstone</text>
<text x="2630" y="2017" textLength="154">Smectitic</text><text x="2631" y="2056" textLength="164">Mudstone</text>
<text x="2634" y="2184" textLength="164">Mudstone</text>
<text x="2636" y="2296" textLength="130">Nodular</text><text x="2635" y="2336" textLength="173">Limestone</text>
<text x="2629" y="2436" textLength="173">Limestone</text>
<text x="2625" y="2546" textLength="138">Calcrete</text>
<text x="2634" y="2630" textLength="125">Silcrete</text>
<text x="2989" y="1859" textLength="286">Paleosol nodules</text>
<text x="2995" y="1964" textLength="174">Septarized</text><text x="2995" y="2004" textLength="286">Paleosol nodules</text>
<text x="3000" y="2112" textLength="281">Sideritic nodules</text>
<text x="2993" y="2204" textLength="207">Fossil  Bone</text>
<text x="3003" y="2333" textLength="268">Dinosaur Tracks</text>
<text x="2991" y="2422" textLength="175">Root casts</text>
<text x="3000" y="2511" textLength="318">Invertebrate Traces</text>
<text x="3000" y="2581" textLength="213">Volcanic Ash</text>
</g>
</svg>
</body></html>
